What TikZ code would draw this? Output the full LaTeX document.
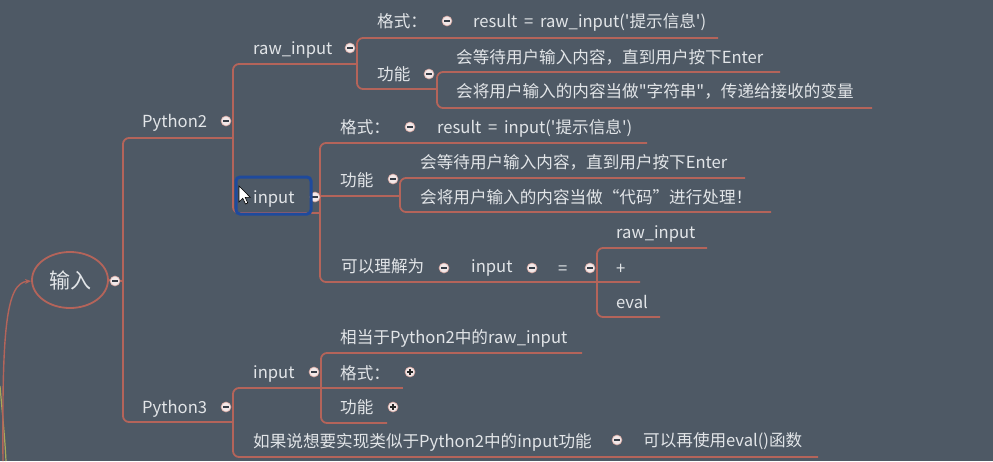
\documentclass[tikz,border=0pt]{standalone}
\usepackage{fontspec}
\newfontfamily\cjk[WordSpace=1.8]{Noto Sans CJK SC}
\usetikzlibrary{arrows.meta,shapes.geometric}
\definecolor{bg}{HTML}{4E5965}
\definecolor{ln}{HTML}{B4645A}
\definecolor{tx}{HTML}{E2E5E8}
\definecolor{btn}{HTML}{F2E8E8}
\definecolor{bluebox}{HTML}{1F4A9C}
\definecolor{olive}{HTML}{A8A85A}
\begin{document}
\begin{tikzpicture}[x=1pt,y=-1pt,
  txt/.style={font=\cjk\fontsize{16.6}{19}\selectfont, text=tx, inner sep=0pt, anchor=base west},
  br/.style={draw=ln, line width=1.8pt, rounded corners=6pt},
  mn/.style={circle, fill=btn, draw=ln!60!white, line width=0.6pt, minimum size=10pt, inner sep=0pt,
    path picture={\draw[line width=1.3pt, draw=bg!70!black]
      ([xshift=-2.6pt]path picture bounding box.center) -- ([xshift=2.6pt]path picture bounding box.center);}},
  pl/.style={circle, fill=btn, draw=ln!60!white, line width=0.6pt, minimum size=10pt, inner sep=0pt,
    path picture={\draw[line width=1.2pt, draw=black!85]
      ([xshift=-2.6pt]path picture bounding box.center) -- ([xshift=2.6pt]path picture bounding box.center)
      ([yshift=-2.6pt]path picture bounding box.center) -- ([yshift=2.6pt]path picture bounding box.center);}}
]
\useasboundingbox[fill=bg] (0,0) rectangle (993,461);

% left decoration curves
\draw[olive, line width=1.2pt] (0,386) .. controls (3,420) and (5,440) .. (6,461);
\draw[ln, line width=1.4pt, -{Stealth[length=6pt,width=5pt]}] (3,461) .. controls (2,330) and (6,283) .. (31,281);

% root
\node[ellipse, draw=ln, line width=1.8pt, minimum width=76pt, minimum height=56pt, inner sep=0pt,
      font=\cjk\fontsize{21}{24}\selectfont, text=tx] (root) at (70,280) {输入};

% branches
\draw[br] (root.east) -- (123,281);
\draw[br] (233,138) -- (123,138) -- (123,422) -- (233,422);
\draw[br] (357,64) -- (233,64) -- (233,213) -- (320,213);
\draw[br] (718,38) -- (357,38) -- (357,89) -- (437,89);
\draw[br] (780,72) -- (437,72) -- (437,108) -- (872,108);
\draw[br] (647,143) -- (320,143) -- (320,282) -- (640,282);
\draw[br] (320,196) -- (400,196);
\draw[br] (745,178) -- (400,178) -- (400,212) -- (771,212);
\draw[br] (707,248) -- (597,248) -- (597,317) -- (660,317);
\draw[br] (320,388) -- (233,388) -- (233,457) -- (818,457);
\draw[br] (582,353) -- (321,353) -- (321,423) -- (387,423);
\draw[br] (321,388) -- (403,388);

% texts
\node[txt] (py2) at (142,127) {Python2};
\node[txt] (raw) at (253,54) {raw\_input};
\node[txt] (rfmt) at (377,27) {格式：};
\node[txt] (rres) at (473,27) {result = raw\_input('提示信息')};
\node[txt] (rfun) at (377,80) {功能};
\node[txt] (rf1) at (456,63) {会等待用户输入内容，直到用户按下Enter};
\node[txt] (rf2) at (456,97) {会将用户输入的内容当做"字符串"，传递给接收的变量};
\node[txt] (in2) at (253,203) {input};
\node[txt] (ifmt) at (340,133) {格式：};
\node[txt] (ires) at (437,133) {result = input('提示信息')};
\node[txt] (ifun) at (340,186) {功能};
\node[txt] (if1) at (420,168) {会等待用户输入内容，直到用户按下Enter};
\node[txt] (if2) at (420,203) {会将用户输入的内容当做“代码”进行处理！};
\node[txt] (und) at (341,272) {可以理解为};
\node[txt] (uin) at (471,272) {input};
\node[txt] (ueq) at (558,274) {=};
\node[txt] (uraw) at (616,238) {raw\_input};
\node[txt] (uplus) at (616,274) {+};
\node[txt] (ueval) at (616,308) {eval};
\node[txt] (py3) at (142,413) {Python3};
\node[txt] (in3) at (253,378) {input};
\node[txt] (eq3) at (340,343) {相当于Python2中的raw\_input};
\node[txt] (fmt3) at (340,379) {格式：};
\node[txt] (fun3) at (340,413) {功能};
\node[txt] (want) at (253,447) {如果说想要实现类似于Python2中的input功能};
\node[txt] (eval3) at (643,446) {可以再使用eval()函数};

% collapse buttons
\node[mn] (b0) at (115,281) {};
\node[mn] (b1) at (226,121) {};
\node[mn] (b2) at (350,48) {};
\node[mn] (b3) at (447,21) {};
\node[mn] (b4) at (429,74) {};
\node[mn] (b5) at (315,197) {};
\node[mn] (b6) at (410,127) {};
\node[mn] (b7) at (393,179) {};
\node[mn] (b8) at (444,268) {};
\node[mn] (b9) at (532,268) {};
\node[mn] (b10) at (590,268) {};
\node[mn] (b11) at (226,407) {};
\node[mn] (b12) at (314,372) {};
\node[mn] (b13) at (617,440) {};
\node[pl] (b14) at (410,372) {};
\node[pl] (b15) at (393,407) {};

% selection box and cursor
\draw[bluebox, line width=3pt, rounded corners=4pt] (236,177) rectangle (311,214);
\draw[fill=white, draw=black, line width=0.6pt, shift={(239,186)}, y=1pt]
  (0,0) -- (0,-16) -- (3.8,-12.3) -- (6.5,-18) -- (8.8,-17) -- (6.2,-11.4) -- (11.3,-11.4) -- cycle;
\end{tikzpicture}
\end{document}
